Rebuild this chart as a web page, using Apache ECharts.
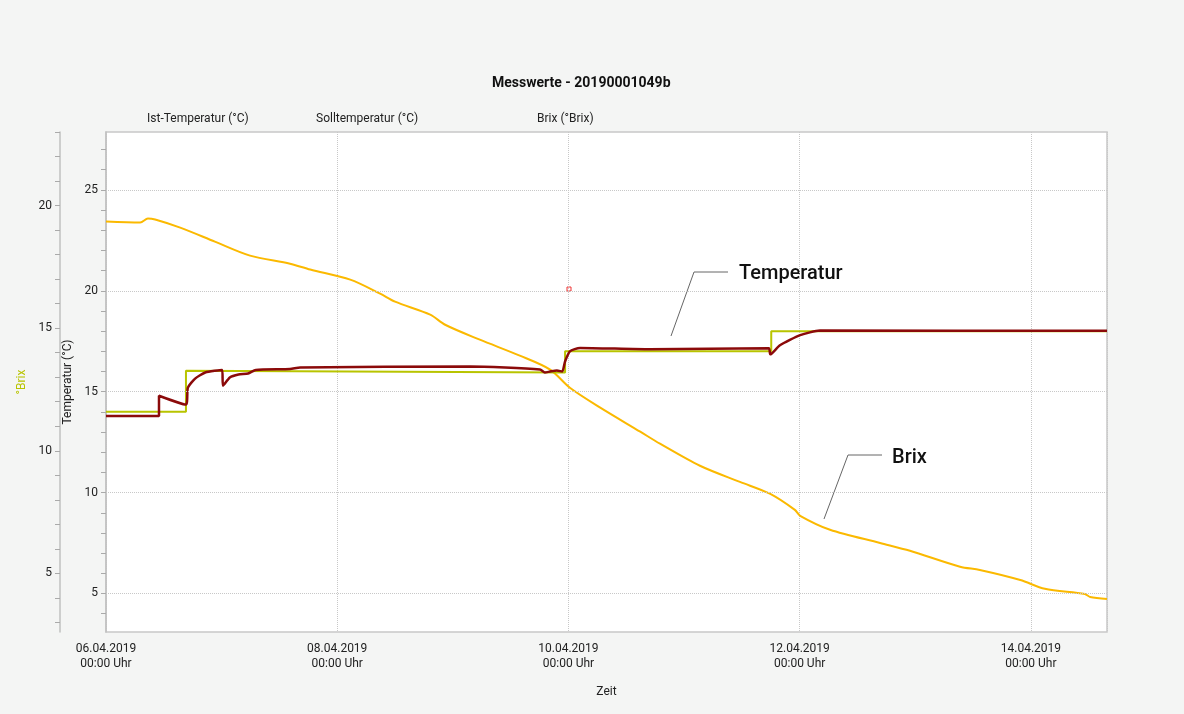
<!DOCTYPE html>
<html><head><meta charset="utf-8">
<script src="https://cdn.jsdelivr.net/npm/echarts@6/dist/echarts.min.js"></script>
<style>html,body{margin:0;padding:0;background:#f4f5f4}#c{width:1184px;height:714px}</style>
</head><body><div id="c"></div>
<script>
// hours since 06.04.2019 00:00
const startDate = new Date(2019, 3, 6, 0, 0);
const endHours = 207.8;
const brixData = [[0,19.35],[7.1,19.31],[8.7,19.47],[10.2,19.43],[15.4,19.10],[22.6,18.53],[29.9,17.96],[38.2,17.63],[42.4,17.39],[50.7,16.98],[56.9,16.41],[60.0,16.08],[67.3,15.55],[70.4,15.14],[77.6,14.53],[85.9,13.88],[92.2,13.31],[96.3,12.57],[102.6,11.76],[110.9,10.78],[115.0,10.29],[123.3,9.39],[131.6,8.73],[137.9,8.24],[143.0,7.59],[144.1,7.35],[150.3,6.78],[160.7,6.24],[166.9,5.92],[177.3,5.27],[181.4,5.14],[189.8,4.73],[194.9,4.37],[203.2,4.16],[204.3,4.04],[207.8,3.96]];
const sollData = [[0,14],[16.6,14],[16.6,16.04],[95.3,15.95],[95.3,17],[138.1,17],[138.1,18],[207.8,18]];
const istData = [[0,13.8],[11.0,13.8],[11.0,14.8],[16.6,14.36],[17.0,15.2],[18.5,15.65],[20.6,15.95],[24.1,16.08],[24.3,15.3],[25.7,15.7],[27.5,15.85],[29.5,15.9],[31.1,16.08],[38.2,16.12],[40.3,16.2],[75.6,16.25],[90.1,16.1],[91.1,15.95],[92.2,16.0],[93.6,16.05],[94.7,16.0],[95.3,16.5],[96.3,17.0],[98.4,17.17],[112.9,17.1],[137.6,17.15],[137.9,16.85],[139.9,17.3],[144.1,17.8],[148.2,18.03],[207.8,18.02]];
const tempLabels = [5,10,15,20,25];
const tempTicks = [4,5,6,7,8,9,10,11,12,13,14,15,16,17,18,19,20,21,22,23,24,25,26,27];
const brixLabels = [5,10,15,20];
const brixTicks = [3,4,5,6,7,8,9,10,11,12,13,14,15,16,17,18,19,20,21,22,23];
const legendNames = ['Ist-Temperatur (°C)','Solltemperatur (°C)','Brix (°Brix)'];
const titleText = 'Messwerte - 20190001049b';

const pad = n => String(n).padStart(2,'0');
const fmtX = h => { const d = new Date(startDate.getTime() + h*3600000);
  return pad(d.getDate())+'.'+pad(d.getMonth()+1)+'.'+d.getFullYear()+'\n'+pad(d.getHours())+':'+pad(d.getMinutes())+' Uhr'; };
const F = 'Roboto, "Noto Sans", sans-serif';
const chart = echarts.init(document.getElementById('c'));
chart.setOption({
  backgroundColor:'#f4f5f4',
  animation:false,
  textStyle:{fontFamily:F},
  title:{text:titleText,left:487,top:71,textStyle:{fontSize:14,fontWeight:'bold',color:'#111',fontFamily:F}},
  grid:{left:106,right:77,top:132,bottom:82,show:true,backgroundColor:'#fff',borderColor:'#c8c8c8',borderWidth:1.5},
  graphic:[
    {type:'text',left:147,top:113,style:{text:legendNames[0],fill:'#222',font:'12px '+F}},
    {type:'text',left:316,top:113,style:{text:legendNames[1],fill:'#222',font:'12px '+F}},
    {type:'text',left:537,top:113,style:{text:legendNames[2],fill:'#222',font:'12px '+F}},
    {type:'polyline',shape:{points:[[728,272],[694,272],[671,336]]},style:{stroke:'#666',lineWidth:1,fill:null}},
    {type:'text',left:739,top:264,style:{text:'Temperatur',font:'500 20px '+F,fill:'#111'}},
    {type:'polyline',shape:{points:[[882,455],[848,455],[824,519]]},style:{stroke:'#666',lineWidth:1,fill:null}},
    {type:'text',left:892,top:448,style:{text:'Brix',font:'500 20px '+F,fill:'#111'}},
    {type:'rect',shape:{x:567,y:287,width:4,height:4},style:{stroke:'#e33',fill:null,lineWidth:1}}
  ],
  xAxis:{type:'value',min:0,max:endHours,interval:48,name:'Zeit',nameLocation:'middle',nameGap:54,
    nameTextStyle:{color:'#222',fontSize:12},
    axisLine:{show:false},axisTick:{show:false},
    axisLabel:{formatter:fmtX,color:'#222',fontSize:12,lineHeight:15,margin:9,showMaxLabel:false},
    splitLine:{show:true,lineStyle:{type:'dotted',color:'#c8c8c8'}}},
  yAxis:[
    {type:'value',min:3.09,max:27.87,position:'left',
      name:'Temperatur (°C)',nameLocation:'middle',nameGap:30,nameTextStyle:{color:'#222',fontSize:12},
      axisLine:{show:true,lineStyle:{color:'#c0c0c0',width:1.5}},
      axisTick:{show:true,length:5,customValues:tempTicks,lineStyle:{color:'#aaa'}},
      axisLabel:{color:'#222',fontSize:12,margin:8,customValues:tempLabels},
      splitLine:{show:false}},
    {type:'value',min:2.61,max:23.0,position:'left',offset:46,
      name:'°Brix',nameLocation:'middle',nameGap:26,nameTextStyle:{color:'#b8c400',fontSize:12},
      axisLine:{show:true,lineStyle:{color:'#c0c0c0',width:1.5}},
      axisTick:{show:true,length:5,customValues:brixTicks,lineStyle:{color:'#aaa'}},
      axisLabel:{color:'#222',fontSize:12,margin:8,customValues:brixLabels},
      splitLine:{show:false}}
  ],
  series:[
    {name:legendNames[2],type:'line',yAxisIndex:1,data:brixData,smooth:0.3,showSymbol:false,
      lineStyle:{color:'#fbb900',width:2},z:2},
    {name:legendNames[1],type:'line',yAxisIndex:0,data:sollData,showSymbol:false,
      lineStyle:{color:'#b8c400',width:2},z:3,
      markLine:{silent:true,symbol:'none',label:{show:false},lineStyle:{type:'dotted',color:'#c8c8c8',width:1},
        data:tempLabels.map(v=>({yAxis:v}))}},
    {name:legendNames[0],type:'line',yAxisIndex:0,data:istData,smooth:0.2,showSymbol:false,
      lineStyle:{color:'#8b0a0a',width:2.5},z:4}
  ]
});
</script></body></html>
